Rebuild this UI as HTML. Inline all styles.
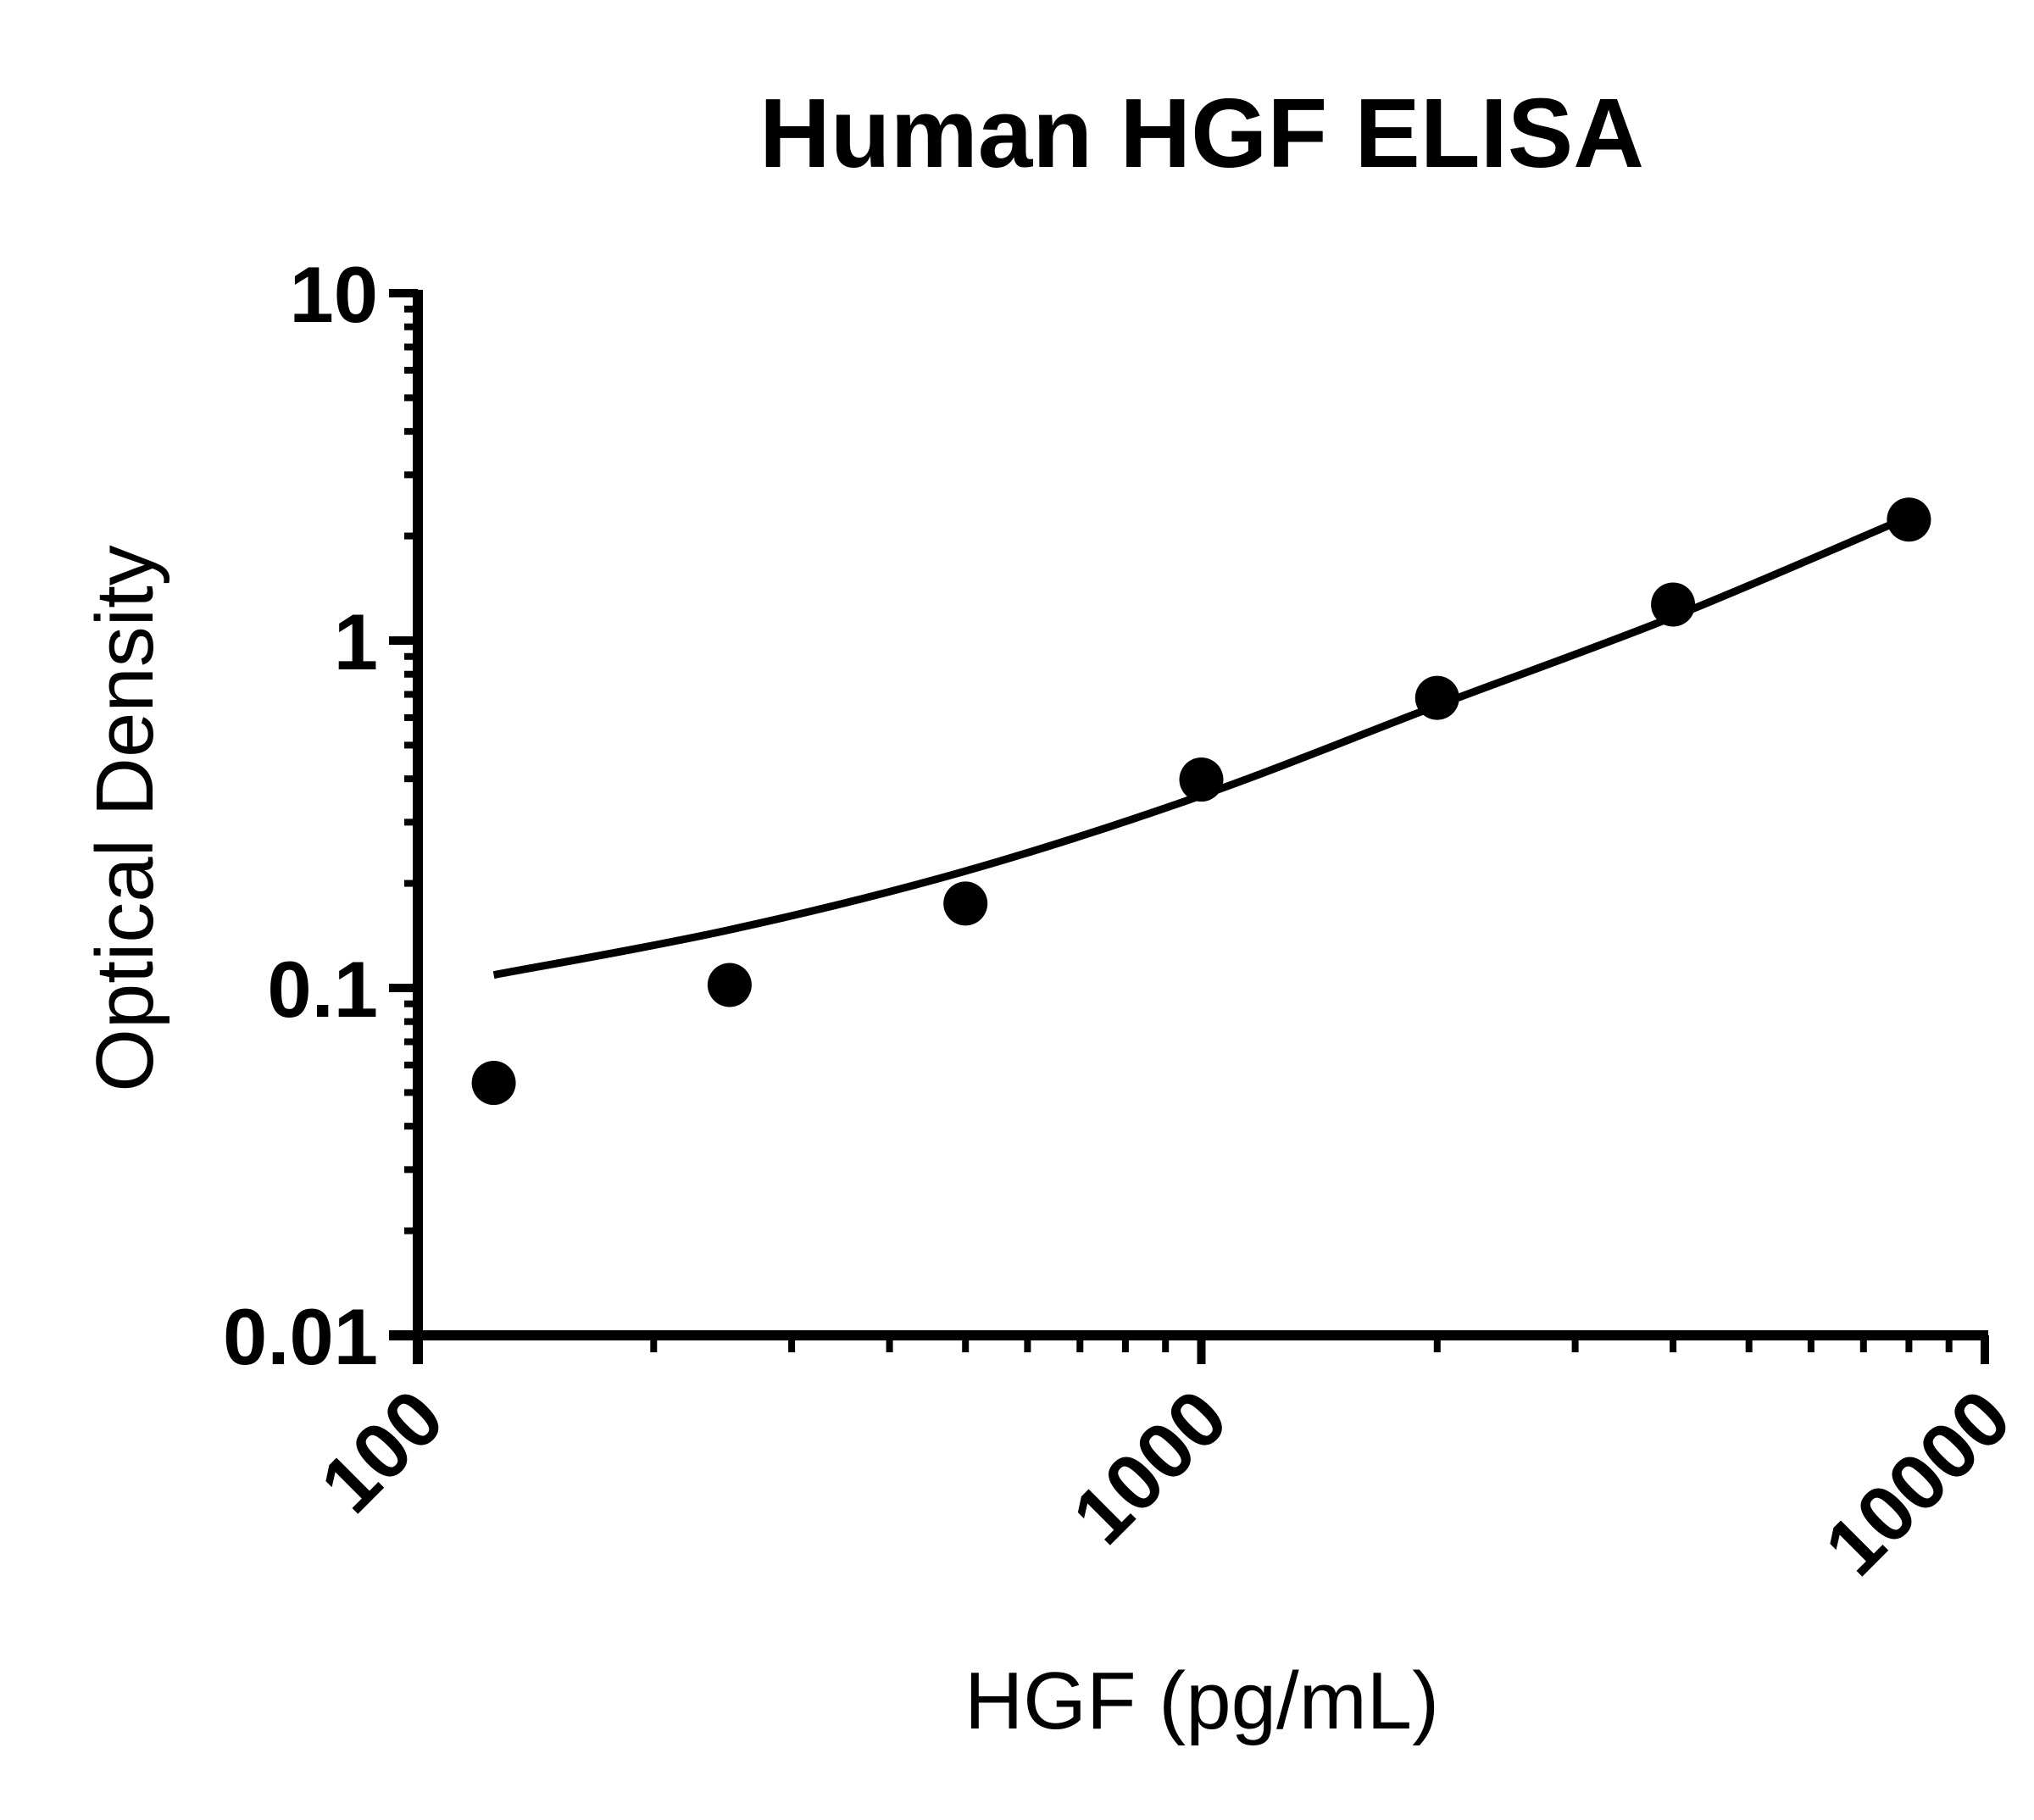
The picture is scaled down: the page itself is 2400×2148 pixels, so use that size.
<!DOCTYPE html>
<html><head><meta charset="utf-8"><style>
html,body{margin:0;padding:0;background:#fff}
svg{display:block}
text{font-family:"Liberation Sans",Arial,sans-serif;fill:#000}
</style></head><body>
<svg id="chart" width="2400" height="2148" viewBox="0 0 2400 2148" xmlns="http://www.w3.org/2000/svg">
<text x="1418" y="197" font-size="116" font-weight="bold" text-anchor="middle">Human HGF ELISA</text>
<text transform="translate(180,966) rotate(-90)" font-size="96" text-anchor="middle">Optical Density</text>
<text x="1418" y="2040" font-size="96" text-anchor="middle">HGF (pg/mL)</text>
<g id="axes"></g>
<g id="marks"></g>
</svg>
<script>
const xTicks = [100, 1000, 10000];
const xTickLabels = ["100", "1000", "10000"];
const yTicks = [0.01, 0.1, 1, 10];
const yTickLabels = ["0.01", "0.1", "1", "10"];
const concentrations = [125, 250, 500, 1000, 2000, 4000, 8000];
const odValues = [0.0533, 0.102, 0.175, 0.398, 0.684, 1.27, 2.23];
const fitX = [125, 250, 500, 1000, 2000, 4000, 8000];
const fitY = [0.109, 0.147, 0.217, 0.358, 0.65, 1.17, 2.27];

const X0 = 493, X1 = 2342, Y0 = 1576, Y1 = 346;
function xs(v){ return X0 + (Math.log10(v) - 2) / 2 * (X1 - X0); }
function ys(v){ return Y0 - (Math.log10(v) + 2) / 3 * (Y0 - Y1); }
const NS = "http://www.w3.org/2000/svg";
const axes = document.getElementById('axes');
const marks = document.getElementById('marks');
function mk(tag, attrs, parent){ const e = document.createElementNS(NS, tag); for (const k in attrs) e.setAttribute(k, attrs[k]); parent.appendChild(e); return e; }

let yl = mk('line', {x1:X0, y1:Y1-4, x2:X0, y2:Y0+34, stroke:'#000','stroke-width':12}, axes);


let xl = mk('line', {x1:X0-34, y1:Y0, x2:X1+4, y2:Y0, stroke:'#000','stroke-width':12}, axes);



yTicks.forEach((v,i)=>{
  const y = ys(v);
  const t = mk('line', {x1:X0-34, y1:y, x2:X0, y2:y, stroke:'#000','stroke-width':10}, axes);
  
  
  const lb = mk('text', {x:446, y:y+34, 'font-size':94, 'font-weight':'bold', 'text-anchor':'end'}, axes);
  lb.textContent = yTickLabels[i];
  
  
  if (i < yTicks.length-1) for (let m=2;m<=9;m++){
    const my = ys(v*m);
    const mt = mk('line', {x1:X0-16, y1:my, x2:X0, y2:my, stroke:'#000','stroke-width':8}, axes);
    
    
  }
});
xTicks.forEach((v,i)=>{
  const x = xs(v);
  const t = mk('line', {x1:x, y1:Y0, x2:x, y2:Y0+34, stroke:'#000','stroke-width':10}, axes);
  
  
  const lb = mk('text', {'font-size':94, 'font-weight':'bold', 'text-anchor':'end', transform:`translate(${x+36},${Y0+104}) rotate(-45)`}, axes);
  lb.textContent = xTickLabels[i];
  
  
  if (i < xTicks.length-1) for (let m=2;m<=9;m++){
    const mx = xs(v*m);
    const mt = mk('line', {x1:mx, y1:Y0, x2:mx, y2:Y0+20, stroke:'#000','stroke-width':8}, axes);
    
    
  }
});

const pts = fitX.map((v,i)=>[xs(v), ys(fitY[i])]);
let d = `M${pts[0][0]},${pts[0][1]}`;
for (let i=0;i<pts.length-1;i++){
  const p0 = pts[i-1]||pts[i], p1 = pts[i], p2 = pts[i+1], p3 = pts[i+2]||p2;
  const c1 = [p1[0]+(p2[0]-p0[0])/6, p1[1]+(p2[1]-p0[1])/6];
  const c2 = [p2[0]-(p3[0]-p1[0])/6, p2[1]-(p3[1]-p1[1])/6];
  d += ` C${c1[0]},${c1[1]} ${c2[0]},${c2[1]} ${p2[0]},${p2[1]}`;
}
const curve = mk('path', {d:d, fill:'none', stroke:'#000', 'stroke-width':9}, marks);



concentrations.forEach((v,i)=>{
  const c = mk('circle', {cx:xs(v), cy:ys(odValues[i]), r:26, fill:'#000'}, marks);
  
  
});
</script>
</body></html>
